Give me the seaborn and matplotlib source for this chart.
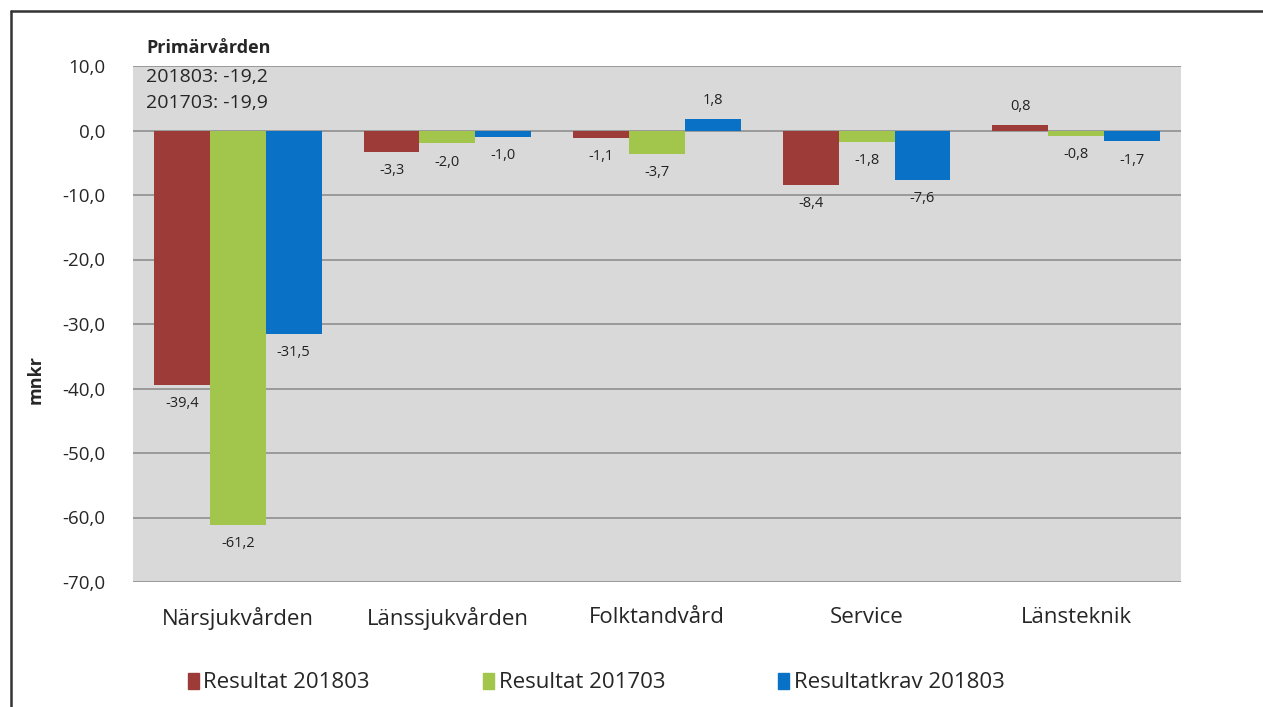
import matplotlib
matplotlib.use("Agg")
import matplotlib.pyplot as plt
import matplotlib.patches as mpatches
from matplotlib.lines import Line2D
import seaborn as sns
import pandas as pd

categories = ["Närsjukvården", "Länssjukvården", "Folktandvård", "Service", "Länsteknik"]
series_names = ["Resultat 201803", "Resultat 201703", "Resultatkrav 201803"]
resultat_201803 = [-39.4, -3.3, -1.1, -8.4, 0.8]
resultat_201703 = [-61.2, -2.0, -3.7, -1.8, -0.8]
resultatkrav_201803 = [-31.5, -1.0, 1.8, -7.6, -1.7]
y_ticks = [10, 0, -10, -20, -30, -40, -50, -60, -70]
note_title = "Primärvården"
note_lines = ["201803: -19,2", "201703: -19,9"]
colors = ["#9C3B38", "#A2C54C", "#0A72C6"]

rows = []
for name, vals in zip(series_names, [resultat_201803, resultat_201703, resultatkrav_201803]):
    for c, v in zip(categories, vals):
        rows.append({"Enhet": c, "Serie": name, "Värde": v})
df = pd.DataFrame(rows)

sns.set_theme(style="white")
plt.rcParams["font.family"] = ["Open Sans", "DejaVu Sans"]

fig = plt.figure(figsize=(12.63, 7.07), dpi=100)
ax = fig.add_axes([133/1263, 1-582/707, (1181-133)/1263, (582-66)/707])
ax.set_facecolor("#D9D9D9")

sns.barplot(data=df, x="Enhet", y="Värde", hue="Serie", order=categories,
            hue_order=series_names, palette=colors, saturation=1, width=0.8, ax=ax,
            edgecolor="none", linewidth=0, errorbar=None, legend=False)

for cont in ax.containers:
    labels = [f"{b.get_height():.1f}".replace(".", ",") for b in cont]
    ax.bar_label(cont, labels=labels, padding=8, fontsize=10.5, color="#222222")

ax.set_ylim(-70, 10)
ax.set_yticks(y_ticks)
ax.set_yticklabels([f"{t:.1f}".replace(".", ",") for t in y_ticks], fontsize=13.5)
ax.tick_params(axis="x", labelsize=16, pad=18, length=0)
ax.tick_params(axis="y", length=0, pad=20)
ax.set_xlabel("")
ax.set_ylabel("mnkr", fontsize=13, fontweight="bold")
ax.yaxis.set_label_coords((45-133)/1048, (582-380)/516)
for s in ax.spines.values():
    s.set_visible(False)
ax.set_axisbelow(True)
ax.yaxis.grid(True, color="#9A9A9A", linewidth=1.4)
ax.set_xlim(-0.5, 4.5)

handles = [mpatches.Patch(color=c, label=n) for c, n in zip(colors, series_names)]
fig.legend(handles=handles, loc="center", bbox_to_anchor=(0.472, 1-683/707), ncol=3,
           frameon=False, fontsize=16, handlelength=0.5, handleheight=0.7,
           handletextpad=0.2, columnspacing=5.1)

fig.text(146/1263, 1-48/707, note_title, fontsize=13, fontweight="bold", va="center", ha="left")
fig.text(146/1263, 1-77/707, note_lines[0], fontsize=14, va="center", ha="left")
fig.text(146/1263, 1-103/707, note_lines[1], fontsize=14, va="center", ha="left")

fig.add_artist(Line2D([11/1263, 1.05], [1-11/707, 1-11/707], transform=fig.transFigure,
                      color="#333333", linewidth=1.8))
fig.add_artist(Line2D([11/1263, 11/1263], [-0.05, 1-11/707], transform=fig.transFigure,
                      color="#333333", linewidth=1.8))

fig.savefig("out.png", dpi=100, facecolor="white")
